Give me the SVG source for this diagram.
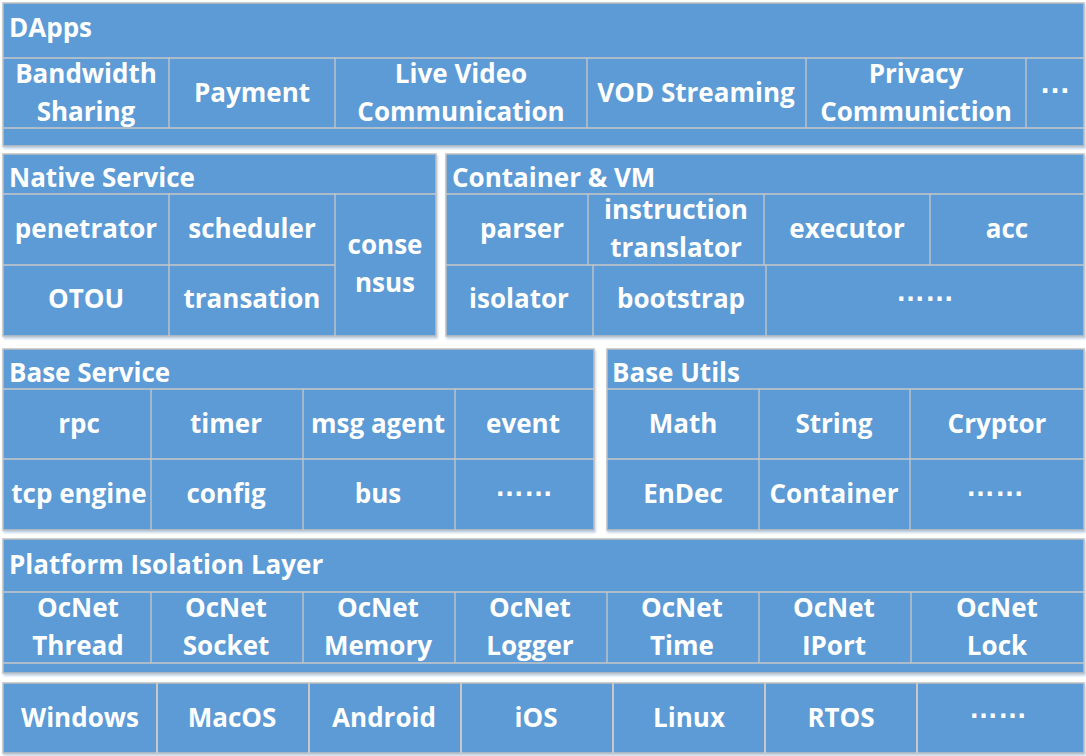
<svg xmlns="http://www.w3.org/2000/svg" width="1086" height="756" viewBox="0 0 1086 756">
<defs>
<filter id="sh" x="-2%" y="-5%" width="104%" height="115%">
<feDropShadow dx="1" dy="2" stdDeviation="1.2" flood-color="#8fb0cf" flood-opacity="0.6"/>
</filter>
<style>
.blk{fill:#5B9BD5;stroke:#C0C0C0;stroke-width:1.5;filter:url(#sh)}
.ln{stroke:#C8C8C8;stroke-width:1.3;fill:none}
.t{font-family:"Open Sans","Liberation Sans",sans-serif;font-weight:700;font-size:26px;fill:#fff;text-anchor:middle}
.h{text-anchor:start}
.d{font-family:"Liberation Sans",sans-serif;font-weight:700;font-size:29px;fill:#fff;text-anchor:middle}
</style>
</defs>
<rect width="1086" height="756" fill="#fff"/>

<g id="dapps">
<rect class="blk" x="3" y="3" width="1081" height="143"/>
<path class="ln" d="M3 58H1084M3 128H1084M169 58V128M335 58V128M587 58V128M806 58V128M1026 58V128"/>
<text class="t h" x="9" y="37">DApps</text>
<text class="t" x="86" y="83">Bandwidth</text>
<text class="t" x="86" y="121">Sharing</text>
<text class="t" x="252" y="102">Payment</text>
<text class="t" x="461" y="83">Live Video</text>
<text class="t" x="461" y="121">Communication</text>
<text class="t" x="696" y="102">VOD Streaming</text>
<text class="t" x="916" y="83">Privacy</text>
<text class="t" x="916" y="121">Communiction</text>
<text class="d" x="1055" y="93" style="font-size:31px">…</text>
</g>

<g id="native-service">
<rect class="blk" x="3" y="154" width="433" height="182"/>
<path class="ln" d="M3 194H436M3 265H335M169 194V336M335 194V336"/>
<text class="t h" x="9" y="187">Native Service</text>
<text class="t" x="86" y="238">penetrator</text>
<text class="t" x="252" y="238">scheduler</text>
<text class="t" x="86" y="308">OTOU</text>
<text class="t" x="252" y="308">transation</text>
<text class="t" x="385" y="254">conse</text>
<text class="t" x="385" y="292">nsus</text>
</g>

<g id="container-vm">
<rect class="blk" x="446" y="154" width="638" height="182"/>
<path class="ln" d="M446 194H1084M446 265H1084M588 194V265M764 194V265M930 194V265M593 265V336M766 265V336"/>
<text class="t h" x="452" y="187">Container &amp; VM</text>
<text class="t" x="522" y="238">parser</text>
<text class="t" x="676" y="219">instruction</text>
<text class="t" x="676" y="257">translator</text>
<text class="t" x="847" y="238">executor</text>
<text class="t" x="1007" y="238">acc</text>
<text class="t" x="519" y="308">isolator</text>
<text class="t" x="681" y="308">bootstrap</text>
<text class="d" x="925" y="301">……</text>
</g>

<g id="base-service">
<rect class="blk" x="3" y="349" width="591" height="181"/>
<path class="ln" d="M3 389H594M3 459H594M151 389V530M303 389V530M455 389V530"/>
<text class="t h" x="9" y="382">Base Service</text>
<text class="t" x="79" y="433">rpc</text>
<text class="t" x="226" y="433">timer</text>
<text class="t" x="378" y="433">msg agent</text>
<text class="t" x="523" y="433">event</text>
<text class="t" x="79" y="503">tcp engine</text>
<text class="t" x="226" y="503">config</text>
<text class="t" x="378" y="503">bus</text>
<text class="d" x="524" y="496">……</text>
</g>

<g id="base-utils">
<rect class="blk" x="607" y="349" width="477" height="181"/>
<path class="ln" d="M607 389H1084M607 459H1084M759 389V530M910 389V530"/>
<text class="t h" x="612" y="382">Base Utils</text>
<text class="t" x="683" y="433">Math</text>
<text class="t" x="834" y="433">String</text>
<text class="t" x="997" y="433">Cryptor</text>
<text class="t" x="683" y="503">EnDec</text>
<text class="t" x="834" y="503">Container</text>
<text class="d" x="995" y="496">……</text>
</g>

<g id="platform-isolation-layer">
<rect class="blk" x="3" y="539" width="1081" height="134"/>
<path class="ln" d="M3 592H1084M3 663H1084M151 592V663M303 592V663M455 592V663M607 592V663M759 592V663M911 592V663"/>
<text class="t h" x="9" y="574">Platform Isolation Layer</text>
<text class="t" x="78" y="617">OcNet</text>
<text class="t" x="78" y="655">Thread</text>
<text class="t" x="226" y="617">OcNet</text>
<text class="t" x="226" y="655">Socket</text>
<text class="t" x="378" y="617">OcNet</text>
<text class="t" x="378" y="655">Memory</text>
<text class="t" x="530" y="617">OcNet</text>
<text class="t" x="530" y="655">Logger</text>
<text class="t" x="682" y="617">OcNet</text>
<text class="t" x="682" y="655">Time</text>
<text class="t" x="834" y="617">OcNet</text>
<text class="t" x="834" y="655">IPort</text>
<text class="t" x="997" y="617">OcNet</text>
<text class="t" x="997" y="655">Lock</text>
</g>

<g id="os">
<rect class="blk" x="3" y="683" width="1081" height="70"/>
<path class="ln" d="M157 683V753M309 683V753M461 683V753M613 683V753M765 683V753M917 683V753" style="stroke-width:2"/>
<text class="t" x="80" y="727">Windows</text>
<text class="t" x="232" y="727">MacOS</text>
<text class="t" x="384" y="727">Android</text>
<text class="t" x="536" y="727">iOS</text>
<text class="t" x="689" y="727">Linux</text>
<text class="t" x="841" y="727">RTOS</text>
<text class="d" x="998" y="718">……</text>
</g>

<g id="connectors"/>
</svg>
